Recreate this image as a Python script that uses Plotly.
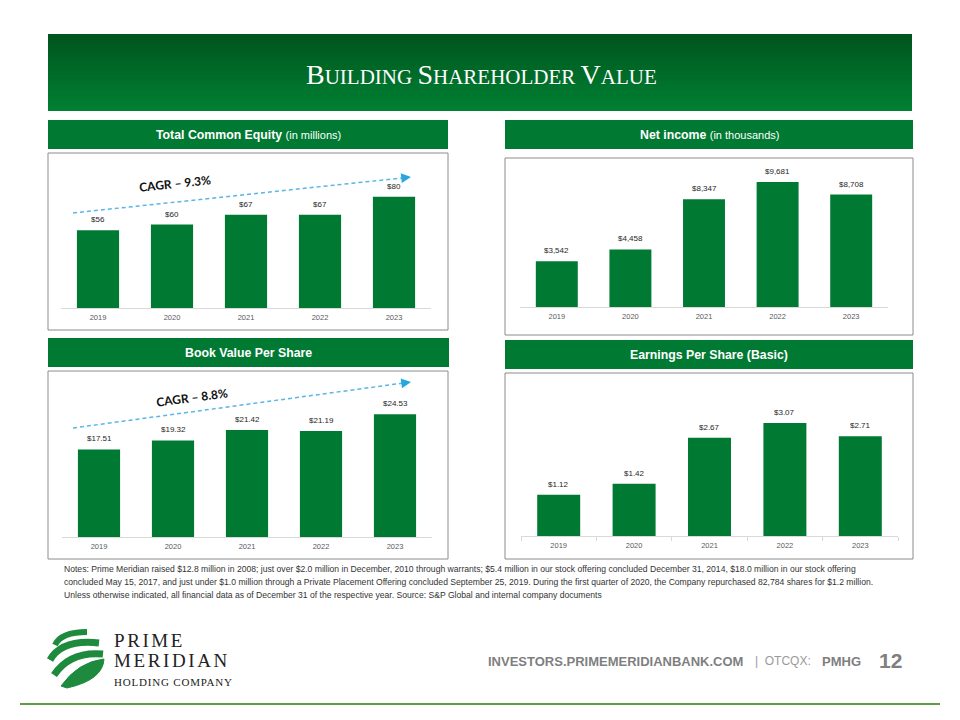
import plotly.graph_objects as go

# ---------------- data ----------------
years = ["2019", "2020", "2021", "2022", "2023"]
equity_millions = [56, 60, 67, 67, 80]
net_income_thousands = [3542, 4458, 8347, 9681, 8708]
book_value_per_share = [17.51, 19.32, 21.42, 21.19, 24.53]
eps_basic = [1.12, 1.42, 2.67, 3.07, 2.71]

equity_labels = [f"${v}" for v in equity_millions]
net_income_labels = [f"${v:,}" for v in net_income_thousands]
bvps_labels = [f"${v:.2f}" for v in book_value_per_share]
eps_labels = [f"${v:.2f}" for v in eps_basic]

cagr_equity = "CAGR – 9.3%"
cagr_bvps = "CAGR – 8.8%"

notes_lines = [
    "Notes: Prime Meridian raised $12.8 million in 2008; just over $2.0 million in December, 2010 through warrants; $5.4 million in our stock offering concluded December 31, 2014, $18.0 million in our stock offering",
    "concluded May 15, 2017, and just under $1.0 million through a Private Placement Offering concluded September 25, 2019. During the first quarter of 2020, the Company repurchased 82,784 shares for $1.2 million.",
    "Unless otherwise indicated, all financial data as of December 31 of the respective year. Source: S&P Global and internal company documents",
]

# ---------------- helpers ----------------
W, H = 960, 720
OFF = 8  # page margin of the html body
def px(x):
    return (x - OFF) / W
def py(y):
    return 1 - (y - OFF) / H

GREEN = "#007a33"
ARIAL = "Arial, Liberation Sans, sans-serif"
SERIF = "Liberation Serif, Times New Roman, serif"

fig = go.Figure()

panels = [
    # (axis suffix, values, labels, x px domain, y px (bottom, top), range)
    ("", equity_millions, equity_labels, (61, 431), (308, 169), [0, 100]),
    ("2", net_income_thousands, net_income_labels, (520, 888), (307, 165), [0, 11000]),
    ("3", book_value_per_share, bvps_labels, (62, 432), (537, 397), [0, 28]),
    ("4", eps_basic, eps_labels, (521, 898), (536, 396), [0, 3.8]),
]

annotations = []
shapes = []

# ---- header band with vertical gradient (overlapping bands, no seams) ----
top_c = (0x00, 0x55, 0x1d)
bot_c = (0x00, 0x80, 0x33)
y0, y1 = 34, 111
n = 30
for i in range(n):
    t = i / (n - 1)
    c = tuple(int(round(a + (b - a) * t)) for a, b in zip(top_c, bot_c))
    ya = y0 + (y1 - y0) * i / n
    shapes.append(dict(type="rect", xref="paper", yref="paper",
                       x0=px(48), x1=px(912), y0=py(y1), y1=py(ya),
                       fillcolor=f"rgb{c}", line=dict(width=0), layer="below"))

def small_caps(words, big, small):
    parts = []
    for w in words:
        parts.append(f"<span style='font-size:{big}px'>{w[0]}</span><span style='font-size:{small}px'>{w[1:]}</span>")
    return " ".join(parts)

annotations.append(dict(
    text=small_caps(["BUILDING", "SHAREHOLDER", "VALUE"], 28, 21),
    x=px(481), y=py(74), xref="paper", yref="paper", showarrow=False,
    xanchor="center", yanchor="middle",
    font=dict(family=SERIF, size=21, color="white")))

# ---- panel headers and boxes ----
headers = [
    ((48, 448), (120, 149), "<b>Total Common Equity</b> <span style='font-size:11px'>(in millions)</span>"),
    ((505, 913), (120, 149), "<b>Net income</b> <span style='font-size:11px'>(in thousands)</span>"),
    ((48, 449), (338, 367), "<b>Book Value Per Share</b>"),
    ((505, 913), (340, 369), "<b>Earnings Per Share (Basic)</b>"),
]
for (xa, xb), (ya, yb), txt in headers:
    shapes.append(dict(type="rect", xref="paper", yref="paper",
                       x0=px(xa), x1=px(xb), y0=py(yb), y1=py(ya),
                       fillcolor=GREEN, line=dict(width=0), layer="below"))
    annotations.append(dict(text=txt, x=px((xa + xb) / 2), y=py((ya + yb) / 2 + 0.5),
                            xref="paper", yref="paper", showarrow=False,
                            xanchor="center", yanchor="middle",
                            font=dict(family=ARIAL, size=12.3, color="white")))

boxes = [((48, 448), (153, 330)), ((505, 913), (158, 335)),
         ((48, 448), (371, 559)), ((505, 913), (373, 559))]
for (xa, xb), (ya, yb) in boxes:
    shapes.append(dict(type="rect", xref="paper", yref="paper",
                       x0=px(xa), x1=px(xb), y0=py(yb), y1=py(ya),
                       fillcolor="white", line=dict(color="#8c8c8c", width=1), layer="below"))

# ---- bar panels ----
layout_axes = {}
for idx, (suf, vals, labels, (xa, xb), (yb, yt), rng) in enumerate(panels):
    xname = "x" + suf
    yname = "y" + suf
    fig.add_trace(go.Bar(x=years, y=vals, marker=dict(color=GREEN, line=dict(width=0)),
                         xaxis=xname, yaxis=yname, showlegend=False, hoverinfo="skip"))
    xa_key = "xaxis" + suf
    ya_key = "yaxis" + suf
    xax = dict(domain=[px(xa), px(xb)], anchor=yname, type="category",
               categoryorder="array", categoryarray=years,
               range=[-0.5, len(years) - 0.5], autorange=False,
               showline=True, linecolor="#d9d9d9", linewidth=1,
               showgrid=False, zeroline=False,
               tickfont=dict(family=ARIAL, size=7.5, color="#595959"),
               ticklabelstandoff=2)
    if suf == "4":
        xax.update(ticks="outside", tickson="boundaries", ticklen=4, tickcolor="#d9d9d9")
    else:
        xax.update(ticks="")
    layout_axes[xa_key] = xax
    layout_axes[ya_key] = dict(domain=[py(yb), py(yt)], anchor=xname, range=rng,
                               autorange=False, visible=False)
    for i, (v, lab) in enumerate(zip(vals, labels)):
        annotations.append(dict(text=lab, x=i, y=v, xref=xname, yref=yname,
                                showarrow=False, xanchor="center", yanchor="bottom", yshift=4,
                                font=dict(family=ARIAL, size=8, color="#262626")))

# ---- CAGR arrows ----
def cagr(start, end, text, tcenter, angle):
    slope = (end[1] - start[1]) / (end[0] - start[0])
    shapes.append(dict(type="line", xref="paper", yref="paper",
                       x0=px(start[0]), y0=py(start[1]), x1=px(end[0] - 6), y1=py(end[1] - 6 * slope),
                       line=dict(color="#5ab6e6", width=1.5, dash="4px,3px")))
    annotations.append(dict(text="", x=px(end[0]), y=py(end[1]), xref="paper", yref="paper",
                            showarrow=True, ax=-10, ay=-10 * slope, arrowhead=2, arrowsize=1.3,
                            arrowwidth=1.5, arrowcolor="#27a6df", standoff=0))
    annotations.append(dict(text=f"<b>{text}</b>", x=px(tcenter[0]), y=py(tcenter[1]),
                            xref="paper", yref="paper", showarrow=False, textangle=angle,
                            xanchor="center", yanchor="middle",
                            font=dict(family="Lato, Open Sans, sans-serif", size=12, color="#111111")))

cagr((73, 213), (411, 177), cagr_equity, (175, 183), -6)
cagr((73, 428), (411, 382), cagr_bvps, (192, 397), -7.5)

# ---- notes ----
for i, line in enumerate(notes_lines):
    annotations.append(dict(text=line, x=px(62), y=py(569 + 13 * i), xref="paper", yref="paper",
                            showarrow=False, xanchor="left", yanchor="middle",
                            font=dict(family=ARIAL, size=8.6, color="#333333")))

# ---- footer ----
annotations.append(dict(text="<b>INVESTORS.PRIMEMERIDIANBANK.COM</b>", x=px(486), y=py(661),
                        xref="paper", yref="paper", showarrow=False, xanchor="left", yanchor="middle",
                        font=dict(family=ARIAL, size=13, color="#7f7f7f")))
annotations.append(dict(text="|  OTCQX:", x=px(753), y=py(661),
                        xref="paper", yref="paper", showarrow=False, xanchor="left", yanchor="middle",
                        font=dict(family=ARIAL, size=12, color="#9a9a9a")))
annotations.append(dict(text="<b>PMHG</b>", x=px(820), y=py(661),
                        xref="paper", yref="paper", showarrow=False, xanchor="left", yanchor="middle",
                        font=dict(family=ARIAL, size=13, color="#7f7f7f")))
annotations.append(dict(text="<b>12</b>", x=px(877), y=py(660),
                        xref="paper", yref="paper", showarrow=False, xanchor="left", yanchor="middle",
                        font=dict(family=ARIAL, size=21, color="#7f7f7f")))
shapes.append(dict(type="line", xref="paper", yref="paper", x0=px(20), x1=px(940),
                   y0=py(704), y1=py(704), line=dict(color="#5e9e42", width=2)))

# ---- logo ----
LOGO_G = "#1d8a3e"
def path(points_cmds):
    out = []
    for cmd, pts in points_cmds:
        coords = " ".join(f"{px(x):.5f},{py(y):.5f}" for x, y in pts)
        out.append(f"{cmd}{coords}")
    return " ".join(out)

stripes = [
    ([("M", [(55, 645)]), ("Q", [(61, 632), (87, 632)])], 6),
    ([("M", [(50, 660)]), ("Q", [(62, 639), (99, 643)])], 7),
    ([("M", [(54, 675)]), ("Q", [(70, 651), (103, 654)])], 7),
]
for cmds, wdt in stripes:
    shapes.append(dict(type="path", xref="paper", yref="paper", path=path(cmds),
                       line=dict(color=LOGO_G, width=wdt)))
shapes.append(dict(type="path", xref="paper", yref="paper",
                   path=path([("M", [(61, 686)]), ("Q", [(78, 662), (104, 659)]),
                              ("Q", [(103, 680), (67, 688)])]) + " Z",
                   fillcolor=LOGO_G, line=dict(color=LOGO_G, width=1)))

annotations.append(dict(text="<span style='letter-spacing:2.6px'>PRIME</span>", x=px(112), y=py(640),
                        xref="paper", yref="paper", showarrow=False, xanchor="left", yanchor="middle",
                        font=dict(family=SERIF, size=19, color="#222222")))
annotations.append(dict(text="<span style='letter-spacing:2.6px'>MERIDIAN</span>", x=px(112), y=py(660.5),
                        xref="paper", yref="paper", showarrow=False, xanchor="left", yanchor="middle",
                        font=dict(family=SERIF, size=19, color="#222222")))
annotations.append(dict(text="<span style='letter-spacing:0.8px'>HOLDING COMPANY</span>", x=px(112), y=py(681.5),
                        xref="paper", yref="paper", showarrow=False, xanchor="left", yanchor="middle",
                        font=dict(family=SERIF, size=11, color="#222222")))

fig.update_layout(
    width=W, height=H, margin=dict(l=0, r=0, t=0, b=0),
    paper_bgcolor="white", plot_bgcolor="rgba(0,0,0,0)",
    bargap=0.43, showlegend=False,
    shapes=shapes, annotations=annotations,
    **layout_axes,
)

fig.write_html("out.html")
